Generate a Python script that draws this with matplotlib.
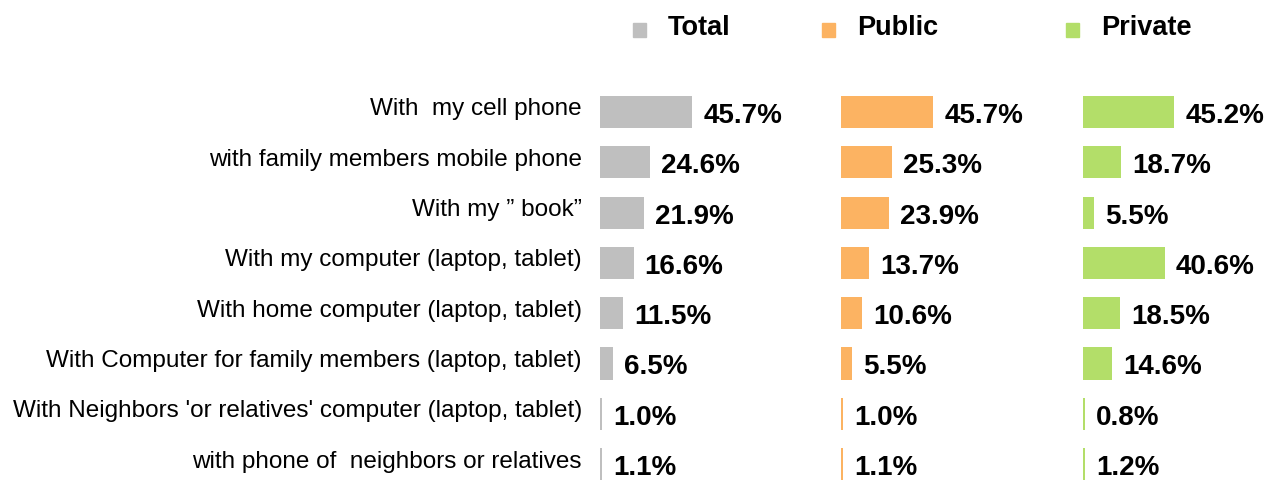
import matplotlib
matplotlib.use("Agg")
import matplotlib.pyplot as plt
from matplotlib.transforms import ScaledTranslation

plt.rcParams["font.family"] = ["Liberation Sans", "DejaVu Sans"]

categories = [
    "With  my cell phone",
    "with family members mobile phone",
    "With my \u201d book\u201d",
    "With my computer (laptop, tablet)",
    "With home computer (laptop, tablet)",
    "With Computer for family members (laptop, tablet)",
    "With Neighbors 'or relatives' computer (laptop, tablet)",
    "with phone of  neighbors or relatives",
]
total = [45.7, 24.6, 21.9, 16.6, 11.5, 6.5, 1.0, 1.1]
public = [45.7, 25.3, 23.9, 13.7, 10.6, 5.5, 1.0, 1.1]
private = [45.2, 18.7, 5.5, 40.6, 18.5, 14.6, 0.8, 1.2]
series = [("Total", total, "#bfbfbf"), ("Public", public, "#fcb362"), ("Private", private, "#b3de69")]

W, H = 1274, 480
fig = plt.figure(figsize=(W / 100, H / 100), dpi=100)

px_per_unit = 2.02
lefts = [600, 841, 1083]
row_top, row_step = 112, 50.3
n = len(categories)
y_top_px = row_top - row_step / 2
y_bot_px = row_top + row_step * (n - 0.5)

axes = []
for i, (name, vals, color) in enumerate(series):
    width_px = 241 if i < 2 else W - lefts[i]
    ax = fig.add_axes([lefts[i] / W, (H - y_bot_px) / H, width_px / W, (y_bot_px - y_top_px) / H])
    ys = list(range(n))
    ax.barh(ys, vals, height=0.64, color=color)
    ax.set_xlim(0, width_px / px_per_unit)
    ax.set_ylim(n - 0.5, -0.5)
    lab_off = ScaledTranslation(0, -4 / 100, fig.dpi_scale_trans)
    for y, v in zip(ys, vals):
        ax.text(v + 5.5, y, f"{v:.1f}%", ha="left", va="center", fontsize=20,
                fontweight="bold", transform=ax.transData + lab_off)
    for s in ax.spines.values():
        s.set_visible(False)
    ax.set_xticks([])
    if i == 0:
        ax.set_yticks(ys)
        ax.set_yticklabels(categories, fontsize=17.5)
        ax.tick_params(axis="y", length=0, pad=13)
        up = ScaledTranslation(0, 5 / 100, fig.dpi_scale_trans)
        for t in ax.get_yticklabels():
            t.set_transform(t.get_transform() + up)
    else:
        ax.set_yticks([])
    axes.append(ax)

# legend
leg_sq = [633, 822, 1066]
for (name, vals, color), x in zip(series, leg_sq):
    fig.patches.append(plt.Rectangle((x / W, (H - 37) / H), 13 / W, 14 / H,
                                     transform=fig.transFigure, color=color))
    fig.text((x + 35) / W, (H - 28) / H, name, ha="left", va="center",
             fontsize=19.5, fontweight="bold")

fig.savefig("out.png", dpi=100)
